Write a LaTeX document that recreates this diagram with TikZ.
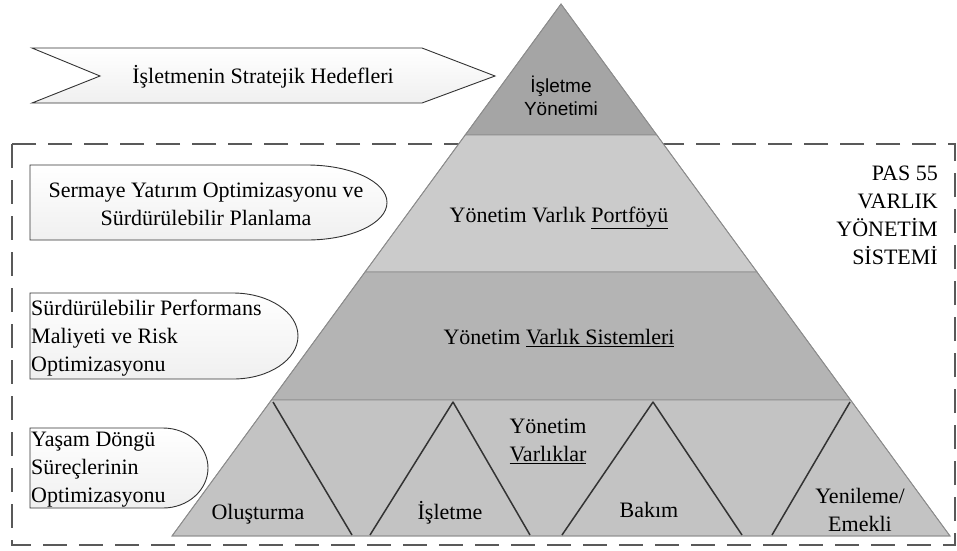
\documentclass[tikz,border=0pt]{standalone}
\usepackage{fontspec}
\setmainfont{Liberation Serif}
\newfontfamily\pyrsans{Liberation Sans}
\definecolor{topgray}{HTML}{A5A5A5}
\definecolor{portgray}{HTML}{CBCBCB}
\definecolor{sysgray}{HTML}{B4B4B4}
\definecolor{lifegray}{HTML}{C3C3C3}
\definecolor{edgegray}{HTML}{8C8C8C}
\begin{document}
\begin{tikzpicture}[x=1pt,y=-1pt,
    label/.style={inner sep=0pt,font=\fontsize{22}{28}\selectfont},
    callout/.style={draw=black!80,line width=0.9pt,top color=white,bottom color=gray!12},
    layer/.style={draw=edgegray,line width=0.8pt},
    zig/.style={draw=black!80,line width=1.5pt,line join=round}]
  \useasboundingbox (0,0) rectangle (957,550);
  % System frame
  \draw[black!65,line width=1.5pt,dash pattern=on 24pt off 12pt] (12,144) rectangle (955,545);
  % Pyramid layers
  \fill[layer,fill=topgray] (561,4) -- (656.8,135) -- (465.2,135) -- cycle;
  \fill[layer,fill=portgray] (465.2,135) -- (656.8,135) -- (757,272) -- (365,272) -- cycle;
  \fill[layer,fill=sysgray] (365,272) -- (757,272) -- (850.6,400) -- (271.4,400) -- cycle;
  \fill[layer,fill=lifegray] (271.4,400) -- (850.6,400) -- (950,536) -- (172,536) -- cycle;
  \draw[layer] (561,4) -- (950,536) -- (172,536) -- cycle;
  % Life cycle zigzag
  \draw[zig] (273,402) -- (352,535);
  \draw[zig] (370,535) -- (453,402) -- (530,535);
  \draw[zig] (562,535) -- (653,402) -- (742,535);
  \draw[zig] (772,535) -- (850,402);
  % Strategic goals chevron
  \draw[callout] (32,48) -- (422,48) -- (495,76) -- (422,103) -- (32,103) -- (100,76) -- cycle;
  \node[label,anchor=base] (hedef) at (263,83) {İşletmenin Stratejik Hedefleri};
  % Side callouts
  \draw[callout] (30,165) -- (307,165) arc[start angle=-90,end angle=90,x radius=80,y radius=37.5] -- (30,240) -- cycle;
  \draw[callout] (30,293) -- (233,293) arc[start angle=-90,end angle=90,x radius=65,y radius=43] -- (30,379) -- cycle;
  \draw[callout] (30,428) -- (163,428) arc[start angle=-90,end angle=90,x radius=45,y radius=40] -- (30,508) -- cycle;
  \node[label,align=center] (sermaye) at (206,204) {Sermaye Yatırım Optimizasyonu ve\\Sürdürülebilir Planlama};
  \node[label,align=left,anchor=west] (performans) at (31,338) {Sürdürülebilir Performans\\Maliyeti ve Risk\\Optimizasyonu};
  \node[label,align=left,anchor=west] (yasam) at (31,470) {Yaşam Döngü\\Süreçlerinin\\Optimizasyonu};
  % Layer texts
  \node[inner sep=0pt,align=center,font=\pyrsans\fontsize{19}{23}\selectfont] (isletme) at (561,96) {İşletme\\Yönetimi};
  \node[label,anchor=base] (portfoy) at (559,222) {Yönetim Varlık \underline{Portföyü}};
  \node[label,anchor=base] (sistem) at (559,344) {Yönetim \underline{Varlık Sistemleri}};
  \node[label,align=center] (varlik) at (548,441) {Yönetim\\\underline{Varlıklar}};
  \node[label,anchor=base] (olustur) at (258,519) {Oluşturma};
  \node[label,anchor=base] (isl) at (450,519) {İşletme};
  \node[label,anchor=base] (bakim) at (649,517) {Bakım};
  \node[label,align=center] (yenile) at (860,510) {Yenileme/\\Emekli};
  % PAS 55 title
  \node[label,align=right,anchor=east] (pas) at (938,215) {PAS 55\\VARLIK\\YÖNETİM\\SİSTEMİ};
\end{tikzpicture}
\end{document}
